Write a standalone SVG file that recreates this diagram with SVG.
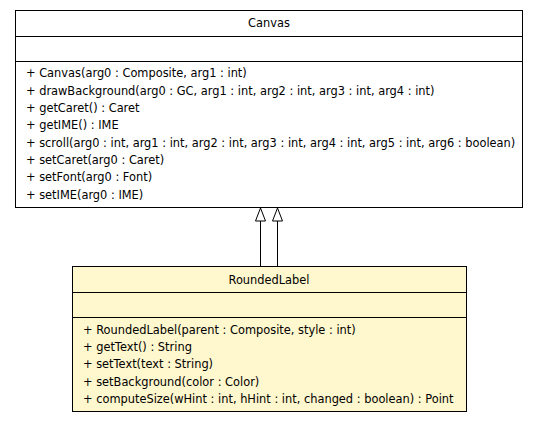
<svg xmlns="http://www.w3.org/2000/svg" width="539" height="423" viewBox="0 0 539 423">
<style>
.box{stroke:#000;stroke-width:1}
.t{font-family:"DejaVu Sans",Verdana,sans-serif;font-size:11.4px;fill:#000}
.c{text-anchor:middle}
.line{stroke:#000;stroke-width:1;fill:none}
.head{fill:#fff;stroke:#000;stroke-width:1}
</style>
<rect width="539" height="423" fill="#fff"/>
<g id="Canvas">
<rect class="box" x="15.5" y="10.5" width="507" height="197" fill="#fff"/>
<line class="line" x1="15.5" y1="36.5" x2="522.5" y2="36.5"/>
<line class="line" x1="15.5" y1="61.5" x2="522.5" y2="61.5"/>
<text class="t c" x="269" y="27">Canvas</text>
<text class="t" x="26" y="77">+ Canvas(arg0 : Composite, arg1 : int)</text>
<text class="t" x="26" y="95">+ drawBackground(arg0 : GC, arg1 : int, arg2 : int, arg3 : int, arg4 : int)</text>
<text class="t" x="26" y="112">+ getCaret() : Caret</text>
<text class="t" x="26" y="129">+ getIME() : IME</text>
<text class="t" x="26" y="147">+ scroll(arg0 : int, arg1 : int, arg2 : int, arg3 : int, arg4 : int, arg5 : int, arg6 : boolean)</text>
<text class="t" x="26" y="164">+ setCaret(arg0 : Caret)</text>
<text class="t" x="26" y="181">+ setFont(arg0 : Font)</text>
<text class="t" x="26" y="199">+ setIME(arg0 : IME)</text>
</g>
<g id="RoundedLabel">
<rect class="box" x="72.5" y="266.5" width="394" height="145" fill="#fff7cd"/>
<line class="line" x1="72.5" y1="292.5" x2="466.5" y2="292.5"/>
<line class="line" x1="72.5" y1="317.5" x2="466.5" y2="317.5"/>
<text class="t c" x="269" y="284">RoundedLabel</text>
<text class="t" x="83" y="334">+ RoundedLabel(parent : Composite, style : int)</text>
<text class="t" x="83" y="351">+ getText() : String</text>
<text class="t" x="83" y="368">+ setText(text : String)</text>
<text class="t" x="83" y="386">+ setBackground(color : Color)</text>
<text class="t" x="83" y="403">+ computeSize(wHint : int, hHint : int, changed : boolean) : Point</text>
</g>
<g id="connectors">
<line class="line" x1="260.5" y1="221" x2="260.5" y2="266"/>
<polygon class="head" points="260.5,208 255.5,221 265.5,221"/>
<line class="line" x1="277.5" y1="221" x2="277.5" y2="266"/>
<polygon class="head" points="277.5,208 272.5,221 282.5,221"/>
</g>
</svg>
